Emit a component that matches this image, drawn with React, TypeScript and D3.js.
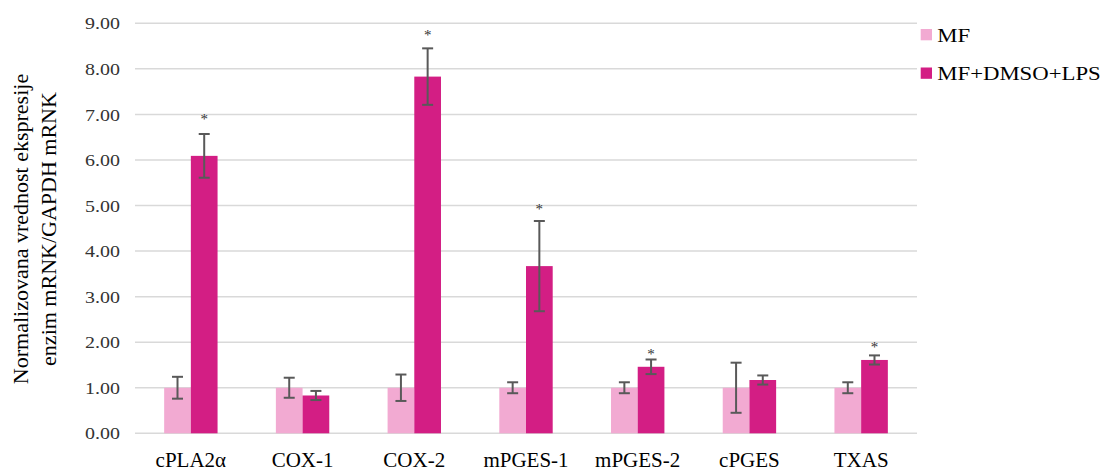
import React from "react";
import * as d3 from "d3";

const categories = ["cPLA2α", "COX-1", "COX-2", "mPGES-1", "mPGES-2", "cPGES", "TXAS"];
const mfValues = [1.0, 1.0, 1.0, 1.0, 1.0, 1.0, 1.0];
const mfErrors = [0.24, 0.22, 0.29, 0.12, 0.12, 0.55, 0.12];
const lpsValues = [6.09, 0.83, 7.83, 3.67, 1.46, 1.17, 1.61];
const lpsErrors = [0.48, 0.1, 0.62, 0.99, 0.16, 0.1, 0.1];
const starLevels = [6.94, null, 8.79, 4.97, 1.79, null, 1.94];
const yTicks = [0, 1, 2, 3, 4, 5, 6, 7, 8, 9];
const seriesNames = ["MF", "MF+DMSO+LPS"];
const seriesColors = ["#F2AAD2", "#D31E84"];
const titleLines = ["Normalizovana vrednost ekspresije", "enzim mRNK/GAPDH mRNK"];

const W = 1102;
const H = 472;
const font = "'Liberation Serif', 'Times New Roman', serif";

export default function App() {
  const x = d3.scaleBand<string>().domain(categories).range([135, 917]).padding(0);
  const y = d3.scaleLinear().domain([0, 9]).range([433.3, 23.3]);
  const bw = x.bandwidth() * 0.239;
  const errCol = "#595959";
  const cap = 5.5;

  const renderErr = (cx: number, v: number, e: number, key: string) => (
    <g key={key} stroke={errCol} strokeWidth={2}>
      <line x1={cx} x2={cx} y1={y(v + e)} y2={y(v - e)} />
      <line x1={cx - cap} x2={cx + cap} y1={y(v + e)} y2={y(v + e)} />
      <line x1={cx - cap} x2={cx + cap} y1={y(v - e)} y2={y(v - e)} />
    </g>
  );

  return (
    <svg width={W} height={H} style={{ position: "absolute", left: 0, top: 0, background: "#fff" }} fontFamily={font}>
      <rect width={W} height={H} fill="#fff" />
      {yTicks.map((t) => (
        <g key={t}>
          <line x1={135} x2={917} y1={y(t)} y2={y(t)} stroke="#D9D9D9" strokeWidth={1.5} />
          <text
            transform={`translate(120,${y(t)}) scale(1.14,1)`}
            textAnchor="end"
            dy="0.35em"
            fontSize={17.5}
            fill="#333"
          >
            {t.toFixed(2)}
          </text>
        </g>
      ))}
      {categories.map((c, i) => {
        const cx = (x(c) as number) + x.bandwidth() / 2;
        return (
          <g key={c}>
            <rect x={cx - bw} y={y(mfValues[i])} width={bw} height={y(0) - y(mfValues[i])} fill={seriesColors[0]} />
            <rect x={cx} y={y(lpsValues[i])} width={bw} height={y(0) - y(lpsValues[i])} fill={seriesColors[1]} />
            {renderErr(cx - bw / 2, mfValues[i], mfErrors[i], "e1")}
            {renderErr(cx + bw / 2, lpsValues[i], lpsErrors[i], "e2")}
            {starLevels[i] !== null && (
              <text x={cx + bw / 2} y={y(starLevels[i] as number) + 7} textAnchor="middle" fontSize={15} fill="#333">
                *
              </text>
            )}
            <text x={cx} y={467} textAnchor="middle" fontSize={21} fill="#000">
              {c}
            </text>
          </g>
        );
      })}
      {titleLines.map((l, i) => (
        <text
          key={l}
          transform={`translate(${28 + i * 28},229) rotate(-90)`}
          textAnchor="middle"
          fontSize={22}
          fill="#000"
        >
          {l}
        </text>
      ))}
      {seriesNames.map((s, i) => (
        <g key={s}>
          <rect x={920.7} y={29 + i * 38.5} width={11.3} height={11.3} fill={seriesColors[i]} />
          <text transform={`translate(937.3,${41.7 + i * 38.5}) scale(1.23,1)`} fontSize={18.5} fill="#000">
            {s}
          </text>
        </g>
      ))}
    </svg>
  );
}
